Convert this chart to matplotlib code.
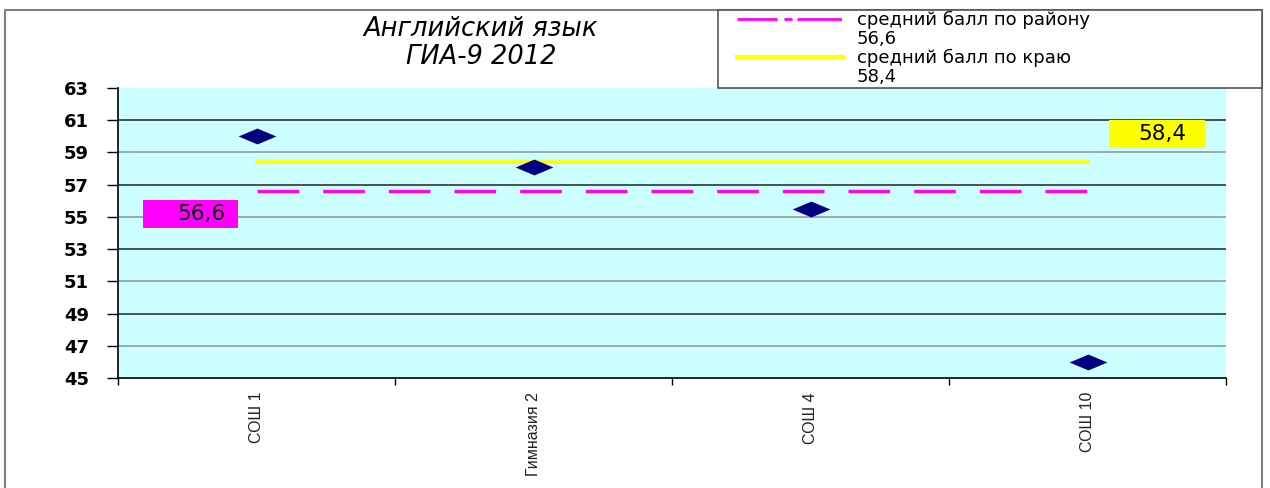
import matplotlib
matplotlib.use("Agg")
import matplotlib.pyplot as plt
from matplotlib.patches import Rectangle
from matplotlib.lines import Line2D

plt.rcParams['font.family'] = ['DejaVu Sans']

schools = ['СОШ 1', 'Гимназия 2', 'СОШ 4', 'СОШ 10']
scores = [60.0, 58.1, 55.5, 46.0]
district_avg = 56.6
region_avg = 58.4
district_text = '56,6'
region_text = '58,4'
legend_labels = ['средний балл по району', '56,6', 'средний балл по краю', '58,4']
yticks = list(range(45, 64, 2))

W, H = 1270, 488
fig = plt.figure(figsize=(W / 100, H / 100), dpi=100)
ax = fig.add_axes([118 / W, 110 / H, 1108 / W, 290 / H])
ax.set_facecolor('#CCFFFF')

# outer frame of the chart and the legend frame
fig.patches.append(Rectangle((5 / W, -0.1), 1257 / W, 1.1 - 10 / H,
                             transform=fig.transFigure, fill=False,
                             edgecolor='#808080', lw=1.5))
fig.patches.append(Rectangle((718 / W, 1 - 88 / H), 544 / W, 78 / H,
                             transform=fig.transFigure, fill=True, fc='white',
                             edgecolor='#555555', lw=1.2))

x = list(range(len(schools)))
ax.set_xlim(-0.5, len(schools) - 0.5)
ax.set_ylim(45, 63)

# grid lines, dark and light alternate
for v in yticks[1:-1]:
    c = '#333333' if (v - 45) % 4 == 0 else '#999999'
    ax.axhline(v, color=c, lw=1.2, zorder=1)

ax.plot([x[0], x[-1]], [region_avg, region_avg], color='#FFFF00', lw=2.6, zorder=2)
ax.plot([x[0], x[-1]], [district_avg, district_avg], color='#FF00FF', lw=2.4,
        dashes=(12.5, 7.2), zorder=2)

diamond = [(-1, 0), (0, 0.42), (1, 0), (0, -0.42), (-1, 0)]
ax.scatter(x, scores, marker=diamond, s=740, color='#000080', lw=0, zorder=3)

# value boxes
ax.add_patch(Rectangle((-0.41, district_avg - 2.29), 0.343, 1.74,
                       fc='#FF00FF', ec='none', zorder=4))
ax.text(-0.2, district_avg - 1.42, district_text, fontsize=15.5, ha='center',
        va='center', zorder=5)
ax.add_patch(Rectangle((3.078, region_avg + 0.87), 0.346, 1.74,
                       fc='#FFFF00', ec='none', zorder=4))
ax.text(3.27, region_avg + 1.75, region_text, fontsize=15.5, ha='center',
        va='center', zorder=5)

ax.set_yticks(yticks)
ax.set_yticklabels([str(v) for v in yticks], fontsize=13, fontweight='bold')
ax.tick_params(axis='y', length=8, width=1, pad=13)
ax.set_xticks([i + 0.5 for i in range(-1, len(schools))])
ax.set_xticklabels([])
ax.tick_params(axis='x', length=5, width=1, direction='out')
ax.set_xticks(x, minor=True)
ax.set_xticklabels(schools, minor=True, rotation=90, fontsize=11.5, va='top',
                   color='#222222', family='Liberation Sans')
ax.tick_params(axis='x', which='minor', length=0, pad=10)
for s in ['top', 'right']:
    ax.spines[s].set_visible(False)
ax.spines['left'].set_linewidth(1.2)
ax.spines['bottom'].set_linewidth(1.2)

fig.text(481 / W, 1 - 43 / H, 'Английский язык\nГИА-9 2012', ha='center',
         va='center', fontsize=18.5, style='italic', linespacing=1.05)

blank = Line2D([], [], color='none')
handles = [Line2D([], [], color='#FF00FF', lw=2, dashes=(14.4, 2.5, 2.9, 1.8, 16)),
           blank,
           Line2D([], [], color='#FFFF00', lw=3),
           blank]
leg = fig.legend(handles, legend_labels, loc='upper left',
                 bbox_to_anchor=(736 / W, 1 - 10 / H), fontsize=13,
                 frameon=False, handlelength=5.9, borderaxespad=0,
                 labelspacing=0.05, borderpad=0.05, handletextpad=0.75)

fig.savefig('out.png', dpi=100)
